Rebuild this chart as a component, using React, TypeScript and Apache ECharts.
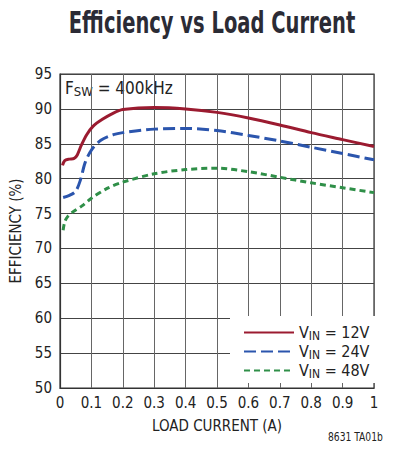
import React, { useEffect, useRef } from "react";
import * as echarts from "echarts";

const titleText = "Efficiency vs Load Current";
const xAxisName = "LOAD CURRENT (A)";
const yAxisName = "EFFICIENCY (%)";
const seriesNames = ["V{s|IN} = 12V", "V{s|IN} = 24V", "V{s|IN} = 48V"];

const vin12X = [0.008, 0.015, 0.03, 0.045, 0.055, 0.068, 0.085, 0.105, 0.135, 0.17, 0.2, 0.3, 0.4, 0.5, 0.6, 0.7, 0.8, 0.9, 1.0];
const vin12Y = [81.9, 82.6, 82.8, 82.9, 83.4, 84.8, 86.3, 87.5, 88.5, 89.4, 89.9, 90.2, 90.0, 89.5, 88.7, 87.7, 86.6, 85.6, 84.6];

const vin24X = [0.01, 0.03, 0.05, 0.065, 0.08, 0.1, 0.13, 0.17, 0.2, 0.3, 0.4, 0.5, 0.6, 0.7, 0.8, 0.9, 1.0];
const vin24Y = [77.3, 77.6, 78.2, 79.8, 82.3, 84.1, 85.5, 86.3, 86.6, 87.1, 87.2, 86.9, 86.2, 85.4, 84.5, 83.6, 82.7];

const vin48X = [0.01, 0.015, 0.025, 0.04, 0.07, 0.1, 0.15, 0.2, 0.3, 0.4, 0.5, 0.6, 0.7, 0.8, 0.9, 1.0];
const vin48Y = [72.6, 73.8, 74.6, 75.2, 76.1, 77.2, 78.6, 79.5, 80.7, 81.3, 81.5, 81.0, 80.2, 79.4, 78.7, 78.0];

const NARROW = '"DejaVu Sans Condensed", "Liberation Sans", sans-serif';

function zip(xs: number[], ys: number[]) {
  return xs.map((x, i) => [x, ys[i]]);
}

export default function App() {
  const ref = useRef<HTMLDivElement>(null);
  useEffect(() => {
    if (!ref.current) return;
    const chart = echarts.init(ref.current, undefined, { renderer: "svg" });
    const colors = ["#9b1b30", "#2b55ad", "#2f8f48"];
    const dashes: any[] = ["solid", [12, 5], [6, 4]];
    const datas = [zip(vin12X, vin12Y), zip(vin24X, vin24Y), zip(vin48X, vin48Y)];
    chart.setOption({
      animation: false,
      backgroundColor: "#ffffff",
      grid: {
        left: 60,
        right: 22,
        top: 74,
        bottom: 76,
        show: true,
        borderColor: "#333",
        borderWidth: 1.2,
        backgroundColor: "transparent",
      },
      xAxis: {
        type: "value",
        min: 0,
        max: 1,
        interval: 0.1,
        name: xAxisName,
        nameLocation: "middle",
        nameGap: 30,
        nameTextStyle: { fontFamily: NARROW, fontSize: 15, color: "#222" },
        axisLine: { show: true, lineStyle: { color: "#333", width: 1.2 } },
        axisTick: { show: false },
        axisLabel: {
          margin: 7,
          fontFamily: NARROW,
          fontSize: 15,
          color: "#222",
          formatter: (v: number) => (v === 0 ? "0" : v === 1 ? "1" : v.toFixed(1)),
        },
        splitLine: { show: true, lineStyle: { color: "#666", width: 1 } },
      },
      yAxis: {
        type: "value",
        min: 50,
        max: 95,
        interval: 5,
        name: yAxisName,
        nameLocation: "middle",
        nameGap: 32,
        nameTextStyle: { fontFamily: NARROW, fontSize: 15, color: "#222" },
        axisLine: { show: true, lineStyle: { color: "#333", width: 1.2 } },
        axisTick: { show: false },
        axisLabel: { margin: 8, fontFamily: NARROW, fontSize: 15, color: "#222" },
        splitLine: { show: true, lineStyle: { color: "#444", width: 1 } },
      },
      legend: {
        orient: "vertical",
        left: 230,
        top: 316,
        padding: [7, 8, 3, 13],
        itemGap: 0,
        itemWidth: 50,
        itemHeight: 10,
        backgroundColor: "#ffffff",
        itemStyle: { opacity: 0 },
        data: seriesNames,
        textStyle: {
          fontFamily: NARROW,
          fontSize: 16,
          lineHeight: 19,
          color: "#222",
          rich: {
            s: { fontFamily: NARROW, fontSize: 12, padding: [6, 0, 0, 0], color: "#222" },
          },
        },
      },
      series: seriesNames.map((name, i) => ({
        name,
        type: "line",
        data: datas[i],
        smooth: 0.3,
        symbol: "none",
        lineStyle: { color: colors[i], width: 3, type: dashes[i] },
        itemStyle: { color: colors[i] },
        z: 5 - i,
      })),
      graphic: [
        {
          type: "text",
          x: 212,
          y: 22,
          scaleX: 0.7,
          style: {
            text: titleText,
            align: "center",
            verticalAlign: "middle",
            fontFamily: NARROW,
            fontWeight: "bold",
            fontSize: 31,
            fill: "#2b2b35",
          },
        },
        {
          type: "text",
          x: 65,
          y: 88,
          style: {
            text: "F{s|SW} = 400kHz",
            align: "left",
            verticalAlign: "middle",
            fontFamily: NARROW,
            fontSize: 17,
            fill: "#222",
            rich: {
              s: { fontFamily: NARROW, fontSize: 13, padding: [6, 0, 0, 0], fill: "#222" },
            },
          },
        },
        {
          type: "text",
          x: 328,
          y: 437,
          scaleX: 0.85,
          style: {
            text: "8631 TA01b",
            align: "left",
            verticalAlign: "middle",
            fontFamily: NARROW,
            fontSize: 12,
            fill: "#222",
          },
        },
      ],
    });
    return () => chart.dispose();
  }, []);
  return (
    <div
      ref={ref}
      style={{ position: "fixed", left: 0, top: 0, width: 396, height: 464 }}
    />
  );
}
